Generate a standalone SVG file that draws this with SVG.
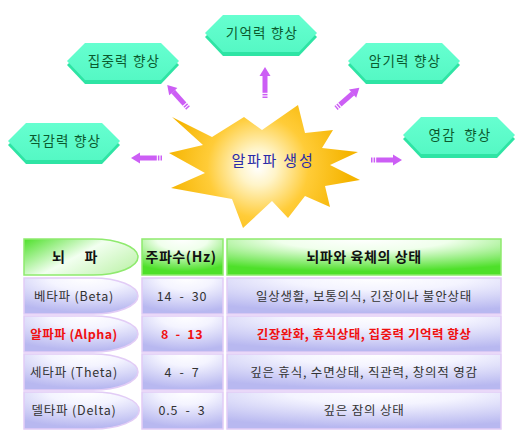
<svg xmlns="http://www.w3.org/2000/svg" width="527" height="434" viewBox="0 0 527 434">
<defs>
<radialGradient id="starGrad" gradientUnits="userSpaceOnUse" cx="258" cy="167" r="92">
<stop offset="0" stop-color="#FFFFFF"/>
<stop offset="0.2" stop-color="#FFF4C8"/>
<stop offset="0.55" stop-color="#FFCC38"/>
<stop offset="1" stop-color="#F5B400"/>
</radialGradient>
<linearGradient id="hexTop" x1="0" y1="0" x2="0" y2="1">
<stop offset="0" stop-color="#66FFD0"/>
<stop offset="1" stop-color="#55F8C4"/>
</linearGradient>
<linearGradient id="greenA" x1="0" y1="0" x2="1" y2="0.6">
<stop offset="0" stop-color="#4EE02A"/>
<stop offset="0.55" stop-color="#F2FFF0"/>
<stop offset="1" stop-color="#C8F5B8"/>
</linearGradient>
<radialGradient id="greenB" cx="0.5" cy="0" r="0.9">
<stop offset="0" stop-color="#FFFFFF"/>
<stop offset="0.35" stop-color="#F0FFEC"/>
<stop offset="1" stop-color="#4EE02A"/>
</radialGradient>
<radialGradient id="lav" cx="0.55" cy="0" r="0.95">
<stop offset="0" stop-color="#FFFFFF"/>
<stop offset="0.35" stop-color="#F4F4FF"/>
<stop offset="1" stop-color="#B8B8F0"/>
</radialGradient>
<g id="arrow">
<rect x="0" y="-2.5" width="1.5" height="5"/>
<rect x="2.6" y="-2.5" width="1.5" height="5"/>
<rect x="5.2" y="-2.5" width="17" height="5"/>
<polygon points="22,-5.5 31,0 22,5.5"/>
</g>
<g id="hex">
<polygon points="0,22 18,4 94,4 112,22 94,41 18,41" fill="#2EE4A4"/>
<polygon points="0,18 18,0 94,0 112,18 94,37 18,37" fill="url(#hexTop)"/>
</g>
</defs>
<style>
.hx{font-family:"Noto Sans CJK KR","Noto Sans",sans-serif;font-size:13.5px;letter-spacing:1.2px;fill:#0B5A2E;text-anchor:middle}
.st{font-family:"Noto Sans CJK KR","Noto Sans",sans-serif;font-size:15px;letter-spacing:1.8px;fill:#2B2BA8;text-anchor:middle}
.th{font-family:"Noto Sans CJK KR","Noto Sans",sans-serif;font-size:14px;font-weight:bold;letter-spacing:0.6px;fill:#111;text-anchor:middle}
.td{font-family:"Noto Sans CJK KR","Noto Sans",sans-serif;font-size:12.5px;letter-spacing:0.8px;fill:#333;text-anchor:middle}
.red{fill:#F01010;font-weight:bold;letter-spacing:0.5px}
.hb{stroke:#8FEA6E;stroke-width:1.5}
.bb{fill:url(#lav);stroke:#E2CCF6;stroke-width:1.5}
.arr{fill:#CC5EF5}
</style>

<g id="connectors" class="arr">
<use href="#arrow" transform="translate(371,160)"/>
<use href="#arrow" transform="translate(162,158) rotate(180)"/>
<use href="#arrow" transform="translate(265,98) rotate(-90)"/>
<use href="#arrow" transform="translate(188,108) rotate(-132)"/>
<use href="#arrow" transform="translate(336,108) rotate(-41)"/>
</g>

<g id="star">
<polygon fill="url(#starGrad)" points="172,117 212,137 244,117 262,130 298,105 305,133 333,130 322,148 358,152 330,165 360,180 325,186 330,207 305,196 288,218 272,201 243,228 232,199 171,188 205,173 169,153 203,145"/>
<text class="st" x="273" y="166">알파파 생성</text>
</g>

<g id="n-jikgam"><use href="#hex" transform="translate(8,123)"/><text class="hx" x="65" y="146">직감력 향상</text></g>
<g id="n-jipjung"><use href="#hex" transform="translate(67,43)"/><text class="hx" x="124" y="66">집중력 향상</text></g>
<g id="n-gieok"><use href="#hex" transform="translate(205,15)"/><text class="hx" x="262" y="38">기억력 향상</text></g>
<g id="n-amgi"><use href="#hex" transform="translate(348,43)"/><text class="hx" x="405" y="66">암기력 향상</text></g>
<g id="n-yeonggam"><use href="#hex" transform="translate(403,117)"/><text class="hx" x="460" y="140" xml:space="preserve">영감  향상</text></g>

<g id="table">
<g id="header">
<path class="hb" fill="url(#greenA)" d="M24,239 H93 A45,18 0 0 1 93,275 H24 Z"/>
<rect class="hb" fill="url(#greenB)" x="142" y="239" width="81" height="36"/>
<rect class="hb" fill="url(#greenB)" x="227" y="239" width="274" height="36"/>
<text class="th" x="75" y="262" xml:space="preserve">뇌     파</text>
<text class="th" x="181" y="262">주파수(Hz)</text>
<text class="th" x="364" y="262">뇌파와 육체의 상태</text>
</g>
<g id="row-beta">
<path class="bb" d="M24,278 H93 A45,18 0 0 1 93,314 H24 Z"/>
<rect class="bb" x="142" y="278" width="81" height="36"/>
<rect class="bb" x="227" y="278" width="274" height="36"/>
<text class="td" x="74" y="301">베타파 (Beta)</text>
<text class="td" x="182" y="301" xml:space="preserve">14  -  30</text>
<text class="td" x="364" y="301">일상생활, 보통의식, 긴장이나 불안상태</text>
</g>
<g id="row-alpha">
<path class="bb" d="M24,316 H93 A45,18 0 0 1 93,352 H24 Z"/>
<rect class="bb" x="142" y="316" width="81" height="36"/>
<rect class="bb" x="227" y="316" width="274" height="36"/>
<text class="td red" x="74" y="339">알파파 (Alpha)</text>
<text class="td red" x="182" y="339" xml:space="preserve">8  -  13</text>
<text class="td red" x="364" y="339">긴장완화, 휴식상태, 집중력 기억력 향상</text>
</g>
<g id="row-theta">
<path class="bb" d="M24,354 H93 A45,18 0 0 1 93,390 H24 Z"/>
<rect class="bb" x="142" y="354" width="81" height="36"/>
<rect class="bb" x="227" y="354" width="274" height="36"/>
<text class="td" x="74" y="377">세타파 (Theta)</text>
<text class="td" x="182" y="377" xml:space="preserve">4  -  7</text>
<text class="td" x="364" y="377">깊은 휴식, 수면상태, 직관력, 창의적 영감</text>
</g>
<g id="row-delta">
<path class="bb" d="M24,392 H93 A45,18 0 0 1 93,429 H24 Z"/>
<rect class="bb" x="142" y="392" width="81" height="37"/>
<rect class="bb" x="227" y="392" width="274" height="37"/>
<text class="td" x="74" y="415">델타파 (Delta)</text>
<text class="td" x="182" y="415" xml:space="preserve">0.5  -  3</text>
<text class="td" x="364" y="415">깊은 잠의 상태</text>
</g>
</g>
</svg>
